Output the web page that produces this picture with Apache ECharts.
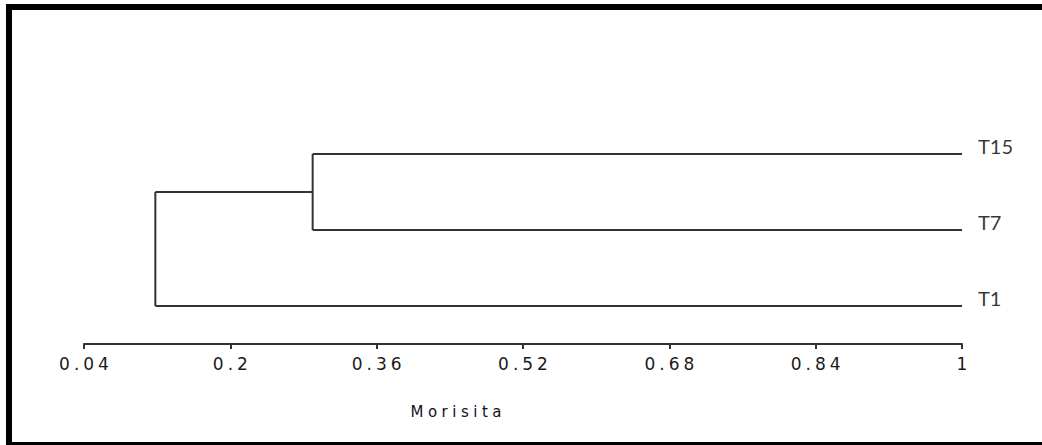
<!DOCTYPE html>
<html><head><meta charset="utf-8">
<script src="https://cdn.jsdelivr.net/npm/echarts@6/dist/echarts.min.js"></script>
<style>
html,body{margin:0;padding:0;background:#fff;}
#wrap{position:relative;width:1042px;height:445px;overflow:hidden;background:#fff;}
#chart{position:absolute;left:0;top:0;width:1042px;height:445px;}
#frame{position:absolute;left:6px;top:4px;width:1100px;height:444px;box-sizing:border-box;border-top:6px solid #000;border-left:6px solid #000;border-bottom:6px solid #000;pointer-events:none;}
</style>
</head><body>
<div id="wrap"><div id="chart"></div><div id="frame"></div></div>
<script>
// ---- data ----
const leafNames = ['T15', 'T7', 'T1'];
const leafRows = [3, 2, 1];
const leafLevel = 1;
const clusterIds = ['c1', 'c2'];
const clusterChildA = ['T15', 'c1'];
const clusterChildB = ['T7', 'T1'];
const clusterLevels = [0.29, 0.118];
const tickLabels = ['0.04', '0.2', '0.36', '0.52', '0.68', '0.84', '1'];
const axisTitle = 'Morisita';

// ---- build dendrogram segments ----
const nodePos = {};
leafNames.forEach((n, i) => { nodePos[n] = [leafLevel, leafRows[i]]; });
const segments = [];
clusterIds.forEach((id, i) => {
  const a = nodePos[clusterChildA[i]], b = nodePos[clusterChildB[i]];
  const lv = clusterLevels[i];
  segments.push([lv, a[1], lv, b[1]]);
  segments.push([lv, a[1], a[0], a[1]]);
  segments.push([lv, b[1], b[0], b[1]]);
  nodePos[id] = [lv, (a[1] + b[1]) / 2];
});
const leafPoints = leafNames.map((n, i) => ({ value: [leafLevel, leafRows[i]], name: n }));

const chart = echarts.init(document.getElementById('chart'), null, { renderer: 'svg' });
chart.setOption({
  animation: false,
  backgroundColor: '#fff',
  grid: { left: 84, right: 80, top: 116, bottom: 101 },
  xAxis: {
    type: 'value', min: 0.04, max: 1, interval: 0.16,
    splitLine: { show: false },
    axisLine: { show: true, lineStyle: { color: '#333', width: 2 } },
    axisTick: { show: true, length: 5, lineStyle: { color: '#333', width: 2 } },
    axisLabel: {
      margin: 11, color: '#1a1a1a', fontFamily: 'DejaVu Sans', fontSize: 17,
      formatter: v => {
        let best = tickLabels[0], d = Infinity;
        tickLabels.forEach(t => { const dd = Math.abs(parseFloat(t) - v); if (dd < d) { d = dd; best = t; } });
        return best;
      }
    },
    name: axisTitle, nameLocation: 'middle', nameGap: 60,
    nameTextStyle: { color: '#111122', fontFamily: 'DejaVu Sans', fontSize: 15, padding: [0, 134, 0, 0] }
  },
  yAxis: { type: 'value', min: 0.5, max: 3.5, show: false },
  series: [
    {
      type: 'custom',
      data: segments,
      encode: { x: [0, 2], y: [1, 3] },
      renderItem: (params, api) => {
        const p1 = api.coord([api.value(0), api.value(1)]);
        const p2 = api.coord([api.value(2), api.value(3)]);
        return { type: 'line', shape: { x1: p1[0], y1: p1[1], x2: p2[0], y2: p2[1] },
                 style: { stroke: '#333', lineWidth: 2 } };
      },
      silent: true
    },
    {
      type: 'scatter',
      data: leafPoints,
      symbolSize: 0,
      label: {
        show: true, position: 'right', distance: 16, offset: [0, -8],
        formatter: p => p.name,
        fontFamily: 'Lato', fontSize: 20, color: '#000'
      },
      silent: true
    }
  ]
});

function spaceTexts() {
  document.querySelectorAll('#chart svg text').forEach(t => {
    const s = t.textContent;
    let ls = 0;
    if (tickLabels.includes(s)) ls = 4;
    else if (s === axisTitle) ls = 4.5;
    if (ls && !t.dataset.spaced) {
      t.style.letterSpacing = ls + 'px';
      t.setAttribute('x', (parseFloat(t.getAttribute('x') || 0) + ls / 2));
      t.dataset.spaced = '1';
    }
  });
}
spaceTexts();
chart.on('finished', spaceTexts);
setTimeout(spaceTexts, 50);
</script>
</body></html>
